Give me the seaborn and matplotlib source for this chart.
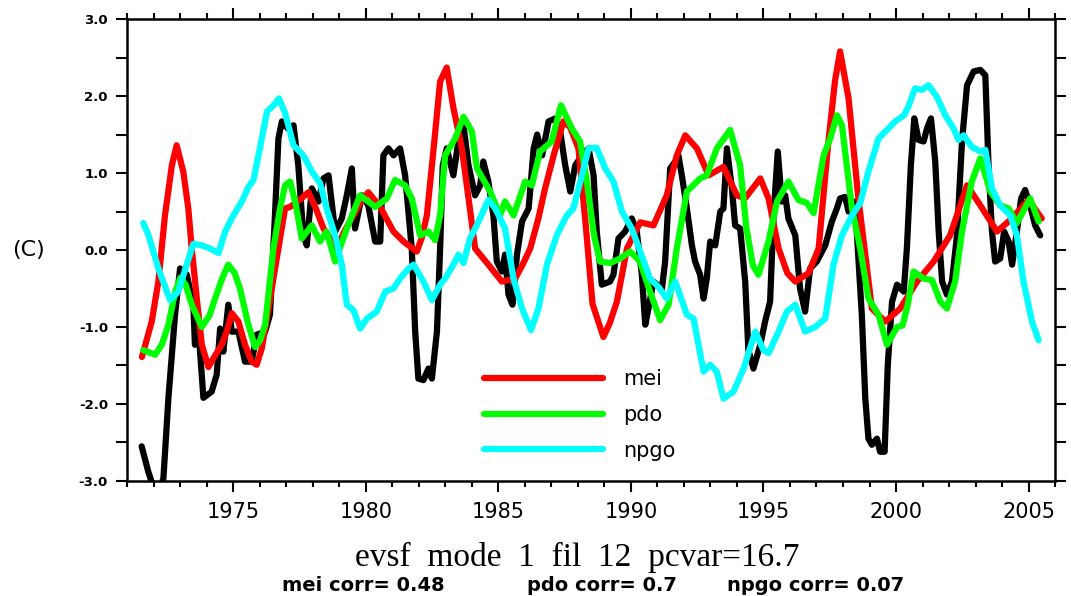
import matplotlib
matplotlib.use('Agg')
import matplotlib.pyplot as plt
from matplotlib.ticker import MultipleLocator, FormatStrFormatter
import numpy as np
import pandas as pd
import seaborn as sns

# ── Data ─────────────────────────────────────────────────────────────────────
SERIES_ORDER = ['evsf', 'mei', 'pdo', 'npgo']
LEGEND_ITEMS = ['mei', 'pdo', 'npgo']
COLORS = {'evsf': '#000000', 'mei': '#ff0000', 'pdo': '#00ff00', 'npgo': '#00ffff'}

evsf_t = [1971.54, 1971.79, 1972.00, 1972.17, 1972.36, 1972.55, 1972.80, 1972.99, 1973.24, 1973.49,
          1973.55, 1973.68, 1973.87, 1974.18, 1974.37, 1974.50, 1974.62, 1974.81, 1974.94, 1975.19,
          1975.44, 1975.69, 1975.88, 1976.20, 1976.38, 1976.57, 1976.70, 1976.83, 1977.05, 1977.27,
          1977.45, 1977.64, 1977.77, 1977.96, 1978.21, 1978.40, 1978.59, 1978.84, 1979.09, 1979.28,
          1979.47, 1979.59, 1979.85, 1980.09, 1980.35, 1980.54, 1980.66, 1980.85, 1981.04, 1981.29,
          1981.48, 1981.73, 1981.86, 1981.98, 1982.17, 1982.36, 1982.49, 1982.68, 1982.80, 1982.90,
          1983.05, 1983.30, 1983.49, 1983.68, 1983.87, 1984.12, 1984.31, 1984.43, 1984.62, 1984.81,
          1984.94, 1985.13, 1985.25, 1985.38, 1985.53, 1985.70, 1985.89, 1986.14, 1986.33, 1986.46,
          1986.65, 1986.89, 1987.15, 1987.33, 1987.52, 1987.71, 1987.90, 1988.15, 1988.40, 1988.59,
          1988.71, 1988.90, 1989.21, 1989.34, 1989.53, 1989.78, 1990.03, 1990.22, 1990.41, 1990.54,
          1990.66, 1990.85, 1991.17, 1991.29, 1991.48, 1991.67, 1991.79, 1991.92, 1992.11, 1992.30,
          1992.42, 1992.61, 1992.74, 1992.86, 1992.99, 1993.18, 1993.37, 1993.49, 1993.62, 1993.81,
          1993.93, 1994.12, 1994.31, 1994.43, 1994.62, 1994.88, 1995.06, 1995.25, 1995.38, 1995.54,
          1995.69, 1995.82, 1995.94, 1996.20, 1996.38, 1996.57, 1996.76, 1997.01, 1997.33, 1997.58,
          1997.77, 1997.89, 1998.08, 1998.21, 1998.40, 1998.52, 1998.71, 1998.84, 1998.96, 1999.09,
          1999.28, 1999.40, 1999.57, 1999.69, 1999.85, 2000.04, 2000.29, 2000.41, 2000.56, 2000.69,
          2000.85, 2001.04, 2001.17, 2001.32, 2001.48, 2001.61, 2001.74, 2001.92, 2002.11, 2002.30,
          2002.49, 2002.68, 2002.93, 2003.18, 2003.37, 2003.49, 2003.62, 2003.74, 2003.93, 2004.08,
          2004.25, 2004.38, 2004.56, 2004.72, 2004.87, 2005.06, 2005.25, 2005.44]
evsf_v = [-2.55, -2.88, -3.10, -3.15, -2.97, -1.92, -0.84, -0.24, -0.32, -0.71,
          -1.23, -1.02, -1.92, -1.84, -1.62, -1.02, -1.32, -0.71, -1.06, -1.06,
          -1.45, -1.45, -1.10, -1.06, -0.84, 0.45, 1.45, 1.67, 1.58, 1.62,
          1.10, 0.19, 0.06, 0.80, 0.63, 0.93, 0.97, 0.24, 0.41, 0.71,
          1.06, 0.28, 0.71, 0.58, 0.11, 0.11, 1.23, 1.32, 1.23, 1.32,
          0.97, 0.02, -1.06, -1.67, -1.69, -1.54, -1.67, -1.06, 0.02, 1.10,
          1.32, 0.97, 1.41, 1.62, 1.10, 0.71, 0.84, 1.15, 0.89, 0.45,
          -0.15, -0.28, -0.06, -0.58, -0.71, -0.06, 0.37, 0.54, 1.32, 1.50,
          1.23, 1.67, 1.71, 1.54, 1.10, 0.76, 1.10, 1.23, 1.32, 0.97,
          0.24, -0.45, -0.41, -0.32, 0.15, 0.24, 0.41, 0.24, -0.32, -0.97,
          -0.76, -0.41, -0.50, -0.15, 1.06, 1.15, 1.23, 0.97, 0.54, 0.06,
          -0.15, -0.32, -0.63, -0.37, 0.11, 0.06, 0.50, 0.54, 1.32, 0.80,
          0.32, 0.28, -0.41, -1.30, -1.54, -1.23, -0.93, -0.67, 0.45, 1.28,
          0.63, 0.71, 0.41, 0.19, -0.50, -0.80, -0.24, -0.15, 0.06, 0.37,
          0.54, 0.67, 0.69, 0.50, 0.63, 0.24, -0.84, -1.92, -2.45, -2.53,
          -2.45, -2.62, -2.62, -1.49, -0.67, -0.45, -0.54, 0.02, 1.10, 1.71,
          1.43, 1.41, 1.58, 1.71, 1.15, 0.24, -0.41, -0.58, -0.41, 0.19,
          1.41, 2.14, 2.32, 2.34, 2.27, 1.10, 0.24, -0.15, -0.11, 0.24,
          0.11, -0.19, 0.24, 0.67, 0.78, 0.58, 0.32, 0.19]

mei_t = [1971.55, 1971.92, 1972.17, 1972.42, 1972.68, 1972.86, 1973.11, 1973.30, 1973.43, 1973.62,
         1973.81, 1974.06, 1974.31, 1974.56, 1974.75, 1974.94, 1975.19, 1975.44, 1975.69, 1975.88,
         1976.07, 1976.32, 1976.51, 1976.70, 1976.95, 1977.14, 1977.50, 1977.83, 1978.10, 1978.40,
         1978.90, 1979.20, 1979.53, 1979.80, 1980.09, 1980.54, 1981.04, 1981.42, 1981.92, 1982.10,
         1982.30, 1982.55, 1982.80, 1983.05, 1983.30, 1983.62, 1983.90, 1984.12, 1984.62, 1985.13,
         1985.63, 1985.90, 1986.20, 1986.50, 1986.76, 1987.10, 1987.45, 1987.70, 1988.02, 1988.30,
         1988.55, 1988.96, 1989.20, 1989.47, 1989.85, 1990.35, 1990.85, 1991.35, 1991.73, 1992.05,
         1992.49, 1992.93, 1993.49, 1994.00, 1994.30, 1994.88, 1995.19, 1995.57, 1995.90, 1996.20,
         1996.70, 1997.08, 1997.45, 1997.70, 1997.89, 1998.21, 1998.58, 1999.09, 1999.59, 2000.16,
         2000.79, 2001.42, 2002.04, 2002.68, 2003.18, 2003.81, 2004.31, 2005.00, 2005.50]
mei_v = [-1.39, -0.93, -0.41, 0.45, 1.10, 1.36, 1.02, 0.54, 0.02, -0.63,
         -1.23, -1.52, -1.37, -1.23, -1.06, -0.82, -0.93, -1.23, -1.45, -1.49,
         -1.28, -0.78, -0.37, 0.02, 0.54, 0.56, 0.65, 0.75, 0.55, 0.28,
         0.02, 0.25, 0.45, 0.62, 0.75, 0.56, 0.24, 0.11, -0.02, 0.15,
         0.45, 1.30, 2.19, 2.37, 1.85, 1.32, 0.60, 0.02, -0.19, -0.41,
         -0.37, -0.20, 0.02, 0.40, 0.80, 1.25, 1.67, 1.60, 1.32, 0.30,
         -0.70, -1.13, -0.95, -0.67, 0.02, 0.36, 0.32, 0.71, 1.23, 1.49,
         1.32, 0.97, 1.08, 0.71, 0.67, 0.93, 0.67, 0.02, -0.30, -0.41,
         -0.30, 0.02, 1.41, 2.20, 2.58, 1.97, 0.67, -0.76, -0.93, -0.76,
         -0.41, -0.15, 0.19, 0.84, 0.58, 0.24, 0.39, 0.65, 0.41]

pdo_t = [1971.60, 1972.05, 1972.30, 1972.55, 1972.80, 1973.00, 1973.20, 1973.43, 1973.81, 1974.10,
         1974.31, 1974.60, 1974.81, 1975.05, 1975.25, 1975.55, 1975.82, 1976.00, 1976.20, 1976.51,
         1976.76, 1976.95, 1977.14, 1977.35, 1977.58, 1977.96, 1978.27, 1978.52, 1978.84, 1979.28,
         1979.78, 1980.35, 1980.79, 1981.10, 1981.48, 1981.73, 1982.05, 1982.36, 1982.61, 1982.80,
         1982.99, 1983.37, 1983.68, 1984.00, 1984.19, 1984.69, 1985.06, 1985.25, 1985.57, 1986.01,
         1986.26, 1986.57, 1987.01, 1987.36, 1987.77, 1988.08, 1988.34, 1988.60, 1988.83, 1989.21,
         1989.59, 1989.97, 1990.34, 1990.72, 1991.10, 1991.42, 1991.73, 1992.11, 1992.61, 1992.86,
         1993.24, 1993.74, 1994.12, 1994.35, 1994.60, 1994.81, 1995.19, 1995.51, 1995.94, 1996.32,
         1996.64, 1996.89, 1997.27, 1997.52, 1997.77, 1997.96, 1998.34, 1998.65, 1998.96, 1999.34,
         1999.66, 2000.04, 2000.25, 2000.45, 2000.66, 2001.04, 2001.36, 2001.67, 2001.92, 2002.23,
         2002.49, 2002.86, 2003.18, 2003.56, 2003.93, 2004.25, 2004.56, 2005.06, 2005.38]
pdo_v = [-1.30, -1.36, -1.23, -0.97, -0.55, -0.36, -0.45, -0.71, -1.00, -0.85,
         -0.63, -0.35, -0.19, -0.30, -0.50, -0.95, -1.26, -1.18, -0.97, 0.02,
         0.54, 0.84, 0.89, 0.60, 0.15, 0.32, 0.11, 0.24, -0.15, 0.28,
         0.71, 0.56, 0.67, 0.91, 0.84, 0.67, 0.19, 0.24, 0.13, 0.45,
         1.23, 1.45, 1.73, 1.54, 1.06, 0.76, 0.45, 0.63, 0.45, 0.89,
         0.84, 1.28, 1.41, 1.88, 1.58, 1.41, 0.89, 0.20, -0.15, -0.17,
         -0.11, -0.02, -0.15, -0.54, -0.91, -0.71, 0.02, 0.76, 0.93, 0.97,
         1.32, 1.56, 1.10, 0.30, -0.20, -0.32, 0.11, 0.63, 0.89, 0.65,
         0.61, 0.48, 1.23, 1.45, 1.75, 1.62, 0.54, 0.02, -0.63, -0.84,
         -1.23, -1.00, -0.98, -0.70, -0.28, -0.37, -0.39, -0.67, -0.76, -0.41,
         0.24, 0.89, 1.19, 0.76, 0.58, 0.54, 0.35, 0.67, 0.37]

npgo_t = [1971.60, 1971.79, 1972.17, 1972.61, 1972.92, 1973.24, 1973.49, 1973.81, 1974.12, 1974.44,
          1974.69, 1975.00, 1975.32, 1975.57, 1975.76, 1976.00, 1976.27, 1976.52, 1976.72, 1976.95,
          1977.27, 1977.64, 1977.96, 1978.27, 1978.52, 1978.84, 1979.09, 1979.28, 1979.53, 1979.78,
          1980.04, 1980.41, 1980.73, 1981.04, 1981.29, 1981.61, 1981.80, 1982.17, 1982.49, 1982.80,
          1982.99, 1983.30, 1983.49, 1983.68, 1983.93, 1984.25, 1984.62, 1984.88, 1985.25, 1985.57,
          1985.89, 1986.23, 1986.51, 1986.83, 1987.20, 1987.58, 1987.83, 1988.15, 1988.40, 1988.70,
          1989.03, 1989.34, 1989.66, 1990.03, 1990.35, 1990.72, 1991.04, 1991.35, 1991.67, 1992.11,
          1992.36, 1992.74, 1992.99, 1993.24, 1993.49, 1993.87, 1994.25, 1994.69, 1995.00, 1995.19,
          1995.57, 1995.88, 1996.20, 1996.57, 1996.95, 1997.33, 1997.64, 1997.96, 1998.34, 1998.65,
          1998.96, 1999.34, 1999.66, 1999.97, 2000.30, 2000.45, 2000.72, 2000.98, 2001.23, 2001.54,
          2001.86, 2002.17, 2002.36, 2002.55, 2002.86, 2003.18, 2003.37, 2003.62, 2003.93, 2004.31,
          2004.56, 2004.81, 2005.13, 2005.38]
npgo_v = [0.35, 0.20, -0.24, -0.65, -0.54, -0.19, 0.08, 0.06, 0.02, -0.04,
          0.24, 0.45, 0.63, 0.82, 0.91, 1.32, 1.80, 1.88, 1.97, 1.78,
          1.36, 1.23, 1.02, 0.87, 0.54, 0.19, -0.19, -0.71, -0.78, -1.02,
          -0.89, -0.80, -0.54, -0.50, -0.37, -0.24, -0.19, -0.41, -0.65, -0.45,
          -0.37, -0.19, -0.06, -0.17, 0.15, 0.37, 0.65, 0.54, 0.28, -0.37,
          -0.76, -1.04, -0.76, -0.19, 0.19, 0.45, 0.54, 0.97, 1.32, 1.33,
          1.06, 0.89, 0.50, 0.28, -0.02, -0.37, -0.48, -0.63, -0.41, -0.84,
          -0.89, -1.58, -1.49, -1.58, -1.93, -1.84, -1.54, -1.06, -1.30, -1.34,
          -1.06, -0.80, -0.71, -1.06, -1.00, -0.89, -0.19, 0.19, 0.45, 0.61,
          1.02, 1.45, 1.56, 1.67, 1.75, 1.85, 2.10, 2.08, 2.14, 1.99,
          1.75, 1.58, 1.43, 1.49, 1.34, 1.28, 1.30, 0.80, 0.58, 0.45,
          0.19, -0.41, -0.93, -1.17]

TITLE = 'evsf  mode  1  fil  12  pcvar=16.7'
CORR_TEXT = ['mei corr= 0.48', 'pdo corr= 0.7', 'npgo corr= 0.07']
Y_LABEL = '(C)'

# ── Build long table ─────────────────────────────────────────────────────────
frames = []
for name, t, v in [('evsf', evsf_t, evsf_v), ('mei', mei_t, mei_v),
                   ('pdo', pdo_t, pdo_v), ('npgo', npgo_t, npgo_v)]:
    frames.append(pd.DataFrame({'year': t, 'value': v, 'series': name}))
df = pd.concat(frames, ignore_index=True)

# ── Plot ─────────────────────────────────────────────────────────────────────
sns.set_style('ticks')
plt.rcParams['font.family'] = ['DejaVu Sans']
plt.rcParams['axes.unicode_minus'] = False
plt.rcParams['text.color'] = 'black'
plt.rcParams['xtick.color'] = 'black'
plt.rcParams['ytick.color'] = 'black'
plt.rcParams['xtick.labelcolor'] = 'black'
plt.rcParams['ytick.labelcolor'] = 'black'

fig = plt.figure(figsize=(10.71, 5.96), dpi=100)
ax = fig.add_axes([0.1189, 0.193, 0.8662, 0.775])

sns.lineplot(data=df, x='year', y='value', hue='series', hue_order=SERIES_ORDER,
             palette=COLORS, linewidth=4.5, estimator=None, sort=False, ax=ax)

ax.set_xlim(1971.0, 2006.0)
ax.set_ylim(-3.0, 3.0)
ax.set_xlabel('')
ax.set_ylabel('')

ax.xaxis.set_major_locator(MultipleLocator(5))
ax.xaxis.set_minor_locator(MultipleLocator(1))
ax.yaxis.set_major_locator(MultipleLocator(1))
ax.yaxis.set_minor_locator(MultipleLocator(0.5))
ax.yaxis.set_major_formatter(FormatStrFormatter('%.1f'))

for side in ['left', 'right', 'top', 'bottom']:
    ax.spines[side].set_visible(True)
    ax.spines[side].set_linewidth(1.8)
    ax.spines[side].set_color('black')

ax.tick_params(which='both', direction='out', top=True, right=True, width=1.5,
               color='black', labelcolor='black')
ax.tick_params(axis='x', which='major', length=8, pad=7, labelsize=15)
ax.tick_params(axis='x', which='minor', length=4)
ax.tick_params(axis='y', which='both', length=8)
ax.tick_params(axis='y', which='major', pad=6, labelsize=9.5)
for lab in ax.get_yticklabels():
    lab.set_fontweight('bold')

handles, labels = ax.get_legend_handles_labels()
keep = [labels.index(n) for n in LEGEND_ITEMS]
leg = ax.legend([handles[i] for i in keep], [labels[i] for i in keep],
                loc='center left', bbox_to_anchor=(0.3846, 0.143), frameon=False,
                fontsize=15, handlelength=5.7, handletextpad=0.95, labelspacing=0.75,
                borderpad=0, borderaxespad=0)
for line in leg.get_lines():
    line.set_linewidth(4.5)
for t in leg.get_texts():
    t.set_color('black')

fig.text(28 / 1071, 0.58, Y_LABEL, fontsize=16, ha='center', va='center')
fig.text(577 / 1071, 1 - 566 / 596, TITLE, fontsize=24, family='Liberation Serif',
         ha='center', va='baseline')
for txt, xpix in zip(CORR_TEXT, [282, 527, 727]):
    fig.text(xpix / 1071, 1 - 591 / 596, txt, fontsize=14, fontweight='bold',
             ha='left', va='baseline')

plt.savefig('out.png', dpi=100)
plt.close()
